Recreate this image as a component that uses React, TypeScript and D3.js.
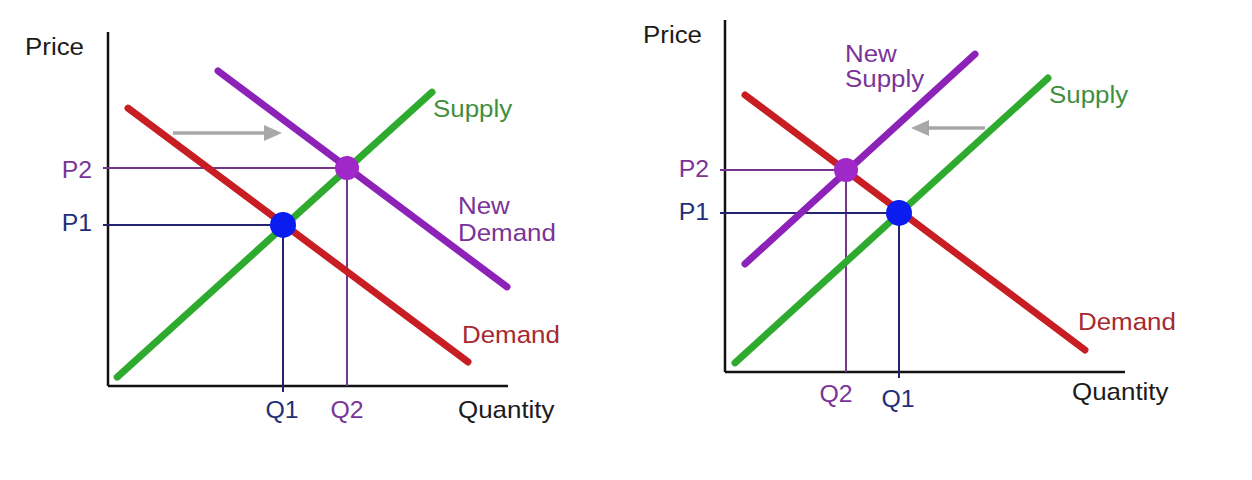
import React from "react";
import * as d3 from "d3";

type Pt = [number, number];

// ---------- Left panel: demand shifts right ----------
const demandA: Pt[] = [[5, 78.5], [90, 6.8]];
const supplyA: Pt[] = [[2.3, 2.5], [81, 83]];
const newDemandA: Pt[] = [[27.5, 89], [99.75, 28]];
const eq1A: Pt = [43.75, 45.5];
const eq2A: Pt = [59.75, 61.6];
const shiftArrowA: Pt[] = [[16.25, 71.5], [43.5, 71.5]];

// ---------- Right panel: supply shifts left ----------
const demandB: Pt[] = [[5, 78.7], [90, 6.25]];
const supplyB: Pt[] = [[2.5, 2.6], [80.75, 83.5]];
const newSupplyB: Pt[] = [[5, 30.7], [62.5, 90.3]];
const eq1B: Pt = [43.5, 45.2];
const eq2B: Pt = [30.25, 57.4];
const shiftArrowB: Pt[] = [[65, 69.3], [46.5, 69.3]];

const axisLabels = { y: "Price", x: "Quantity" };
const priceLabels = ["P1", "P2"];
const qtyLabels = ["Q1", "Q2"];

const C = {
  red: "#c81e23",
  green: "#2eaa2e",
  purple: "#8c22b8",
  blueDot: "#0b1cf0",
  purpleDot: "#a128c8",
  navy: "#232370",
  purpleThin: "#74368c",
  txtPurple: "#7a3498",
  txtNavy: "#22307a",
  txtGreen: "#3f8f3f",
  txtRed: "#a62a30",
  txtBlack: "#1b1b1b",
  arrow: "#a8a8a8",
};

const FONT = "'Liberation Sans', Arial, Helvetica, sans-serif";

const T = ({ x, y, anchor = "start", fill, size = 24, children }: any) => (
  <text
    transform={`translate(${x},${y}) scale(1.08,1)`}
    textAnchor={anchor}
    fill={fill}
    fontSize={size}
    fontFamily={FONT}
  >
    {children}
  </text>
);

const line = d3.line<Pt>();

function ThickLine({ pts, x, y, color }: any) {
  return (
    <path
      d={line(pts.map((p: Pt) => [x(p[0]), y(p[1])] as Pt)) || ""}
      stroke={color}
      strokeWidth={7}
      strokeLinecap="round"
      fill="none"
    />
  );
}

function Arrow({ pts, x, y }: any) {
  const x0 = x(pts[0][0]);
  const x1 = x(pts[1][0]);
  const yy = y(pts[0][1]);
  const dir = Math.sign(x1 - x0);
  const headLen = 18;
  const half = 8;
  return (
    <g>
      <line x1={x0} y1={yy} x2={x1 - dir * headLen} y2={yy} stroke={C.arrow} strokeWidth={3.5} />
      <path
        d={`M${x1},${yy} L${x1 - dir * headLen},${yy - half} L${x1 - dir * headLen},${yy + half} Z`}
        fill={C.arrow}
      />
    </g>
  );
}

function Panel({ x0, x1, yBottom, yTop, demand, supply, shifted, shiftedColor, eq1, eq2, arrow, labels }: any) {
  const x = d3.scaleLinear().domain([0, 100]).range([x0, x1]);
  const y = d3.scaleLinear().domain([0, 100]).range([yBottom, yTop]);
  const e1x = x(eq1[0]), e1y = y(eq1[1]);
  const e2x = x(eq2[0]), e2y = y(eq2[1]);
  return (
    <g>
      {/* axes */}
      <line x1={x0} y1={yTop} x2={x0} y2={yBottom} stroke="#111" strokeWidth={2.5} />
      <line x1={x0} y1={yBottom} x2={x1} y2={yBottom} stroke="#111" strokeWidth={2.5} />
      {/* guide lines */}
      <line x1={x0 - 5} y1={e2y} x2={e2x} y2={e2y} stroke={C.purpleThin} strokeWidth={2} />
      <line x1={e2x} y1={e2y} x2={e2x} y2={yBottom} stroke={C.purpleThin} strokeWidth={2} />
      <line x1={x0 - 5} y1={e1y} x2={e1x} y2={e1y} stroke={C.navy} strokeWidth={2} />
      <line x1={e1x} y1={e1y} x2={e1x} y2={yBottom + 6} stroke={C.navy} strokeWidth={2} />
      {/* curves */}
      <ThickLine pts={supply} x={x} y={y} color={C.green} />
      <ThickLine pts={demand} x={x} y={y} color={C.red} />
      <ThickLine pts={shifted} x={x} y={y} color={shiftedColor} />
      <Arrow pts={arrow} x={x} y={y} />
      {/* equilibrium points */}
      <circle cx={e1x} cy={e1y} r={13} fill={C.blueDot} />
      <circle cx={e2x} cy={e2y} r={12} fill={C.purpleDot} />
      {/* labels */}
      <T x={labels.priceX} y={labels.priceY} fill={C.txtBlack}>{axisLabels.y}</T>
      <T x={labels.qtyX} y={labels.qtyY} fill={C.txtBlack}>{axisLabels.x}</T>
      <T x={x0 - 16} y={e1y + labels.p1dy} anchor="end" fill={C.txtNavy} size={23}>{priceLabels[0]}</T>
      <T x={x0 - 16} y={e2y + labels.p2dy} anchor="end" fill={C.txtPurple} size={23}>{priceLabels[1]}</T>
      <T x={e1x - 1} y={labels.q1Y} anchor="middle" fill={C.txtNavy} size={23}>{qtyLabels[0]}</T>
      <T x={e2x - labels.q2dx} y={labels.q2Y} anchor="middle" fill={C.txtPurple} size={23}>{qtyLabels[1]}</T>
      {labels.children}
    </g>
  );
}

export default function App() {
  return (
    <svg
      width={1252}
      height={480}
      style={{ position: "absolute", left: 0, top: 0, background: "#fff" }}
    >
      <rect width={1252} height={480} fill="#fff" />
      <Panel
        x0={108}
        x1={508}
        yBottom={386}
        yTop={32}
        demand={demandA}
        supply={supplyA}
        shifted={newDemandA}
        shiftedColor={C.purple}
        eq1={eq1A}
        eq2={eq2A}
        arrow={shiftArrowA}
        labels={{
          priceX: 25, priceY: 55, qtyX: 458, qtyY: 418,
          p1dy: 6, p2dy: 10, q1Y: 418, q2Y: 418, q2dx: 0,
          children: (
            <g>
              <T x={433} y={117} fill={C.txtGreen}>Supply</T>
              <T x={458} y={214} fill={C.txtPurple}>New</T>
              <T x={458} y={241} fill={C.txtPurple}>Demand</T>
              <T x={462} y={343} fill={C.txtRed}>Demand</T>
            </g>
          ),
        }}
      />
      <Panel
        x0={725}
        x1={1125}
        yBottom={372}
        yTop={20}
        demand={demandB}
        supply={supplyB}
        shifted={newSupplyB}
        shiftedColor={C.purple}
        eq1={eq1B}
        eq2={eq2B}
        arrow={shiftArrowB}
        labels={{
          priceX: 643, priceY: 43, qtyX: 1072, qtyY: 400,
          p1dy: 7, p2dy: 7, q1Y: 407, q2Y: 402, q2dx: 10,
          children: (
            <g>
              <T x={845} y={62} fill={C.txtPurple}>New</T>
              <T x={845} y={87} fill={C.txtPurple}>Supply</T>
              <T x={1049} y={103} fill={C.txtGreen}>Supply</T>
              <T x={1078} y={330} fill={C.txtRed}>Demand</T>
            </g>
          ),
        }}
      />
    </svg>
  );
}
